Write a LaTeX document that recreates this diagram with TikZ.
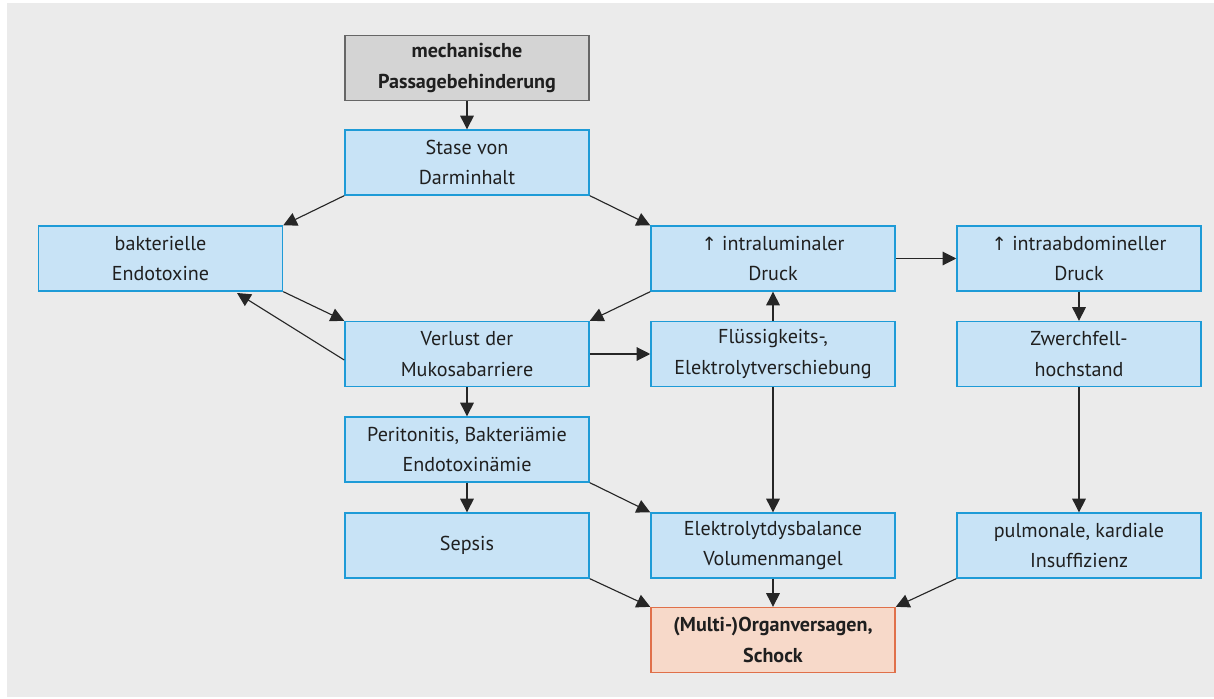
\documentclass[tikz,border=0pt]{standalone}
\usepackage{fontspec}
\setmainfont{PT Sans}
\newfontfamily\arrowfont{DejaVu Sans}
\usepackage{tikz}
\usetikzlibrary{arrows.meta,positioning}
\definecolor{bggray}{HTML}{EBEBEB}
\definecolor{startfill}{HTML}{D4D4D4}
\definecolor{startdraw}{HTML}{666666}
\definecolor{procfill}{HTML}{C8E3F6}
\definecolor{procdraw}{HTML}{1E9BD7}
\definecolor{endfill}{HTML}{F7D9C9}
\definecolor{enddraw}{HTML}{E0704A}
\tikzset{%
	process/.style  = {draw=procdraw, fill=procfill, line width=1.1pt, rectangle, minimum width=6.1cm, minimum height=1.62cm, inner sep=2pt, align=center, text=black!88, font=\fontsize{14.3}{21.5}\selectfont},
	startstop/.style= {process, draw=startdraw, fill=startfill, font=\fontsize{14.3}{21.5}\selectfont\bfseries},
	endstop/.style  = {process, draw=enddraw, fill=endfill, font=\fontsize{14.3}{21.5}\selectfont\bfseries},
	arrow/.style    = {line width=0.8pt, black!85, -{Triangle[length=0.34cm, width=0.34cm]}},
}
\newcommand{\up}{{\arrowfont\fontsize{13}{21.5}\selectfont ↑}}

\begin{document}
\begin{tikzpicture}
	\useasboundingbox (0,0) rectangle (30.35,17.45);
	\fill[bggray] (0.175,0.025) rectangle (30.35,17.375);  % background
	% nodes
	\node[startstop] (mech)    at (11.675,15.75)   {mechanische\\Passagebehinderung};
	\node[process]   (stase)   at (11.675,13.3875) {Stase von\\Darminhalt};
	\node[process]   (bakt)    at (4.0125,10.9875) {bakterielle\\Endotoxine};
	\node[process]   (druck)   at (19.325,10.9875) {\up\ intraluminaler\\Druck};
	\node[process]   (abdom)   at (26.975,10.9875) {\up\ intraabdomineller\\Druck};
	\node[process]   (verlust) at (11.675,8.6)     {Verlust der\\Mukosabarriere};
	\node[process]   (fluess)  at (19.325,8.6)     {Flüssigkeits-,\\Elektrolytverschiebung};
	\node[process]   (zwerch)  at (26.975,8.6)     {Zwerchfell-\\hochstand};
	\node[process]   (perit)   at (11.675,6.2125)  {Peritonitis, Bakteriämie\\Endotoxinämie};
	\node[process]   (sepsis)  at (11.675,3.8125)  {Sepsis};
	\node[process]   (elektro) at (19.325,3.8125)  {Elektrolytdysbalance\\Volumenmangel};
	\node[process]   (pulm)    at (26.975,3.8125)  {pulmonale, kardiale\\Insuffizienz};
	\node[endstop]   (organ)   at (19.325,1.45)    {(Multi-)Organversagen,\\Schock};
	\coordinate (baktin) at (5.925,10.125);
	% connectors
	\draw[arrow] (mech) -- (stase);
	\draw[arrow] (stase.south west) -- (bakt.north east);
	\draw[arrow] (stase.south east) -- (druck.north west);
	\draw[arrow] (bakt.south east) -- (verlust.north west);
	\draw[arrow] ([yshift=-0.15cm]verlust.west) -- (baktin);
	\draw[arrow] (druck.south west) -- (verlust.north east);
	\draw[arrow] (fluess) -- (druck);
	\draw[arrow] (verlust) -- (fluess);
	\draw[arrow] (druck) -- (abdom);
	\draw[arrow] (abdom) -- (zwerch);
	\draw[arrow] (zwerch) -- (pulm);
	\draw[arrow] (verlust) -- (perit);
	\draw[arrow] (perit) -- (sepsis);
	\draw[arrow] (perit.south east) -- (elektro.north west);
	\draw[arrow] (fluess) -- (elektro);
	\draw[arrow] (sepsis.south east) -- (organ.north west);
	\draw[arrow] (elektro) -- (organ);
	\draw[arrow] (pulm.south west) -- (organ.north east);
\end{tikzpicture}
\end{document}
